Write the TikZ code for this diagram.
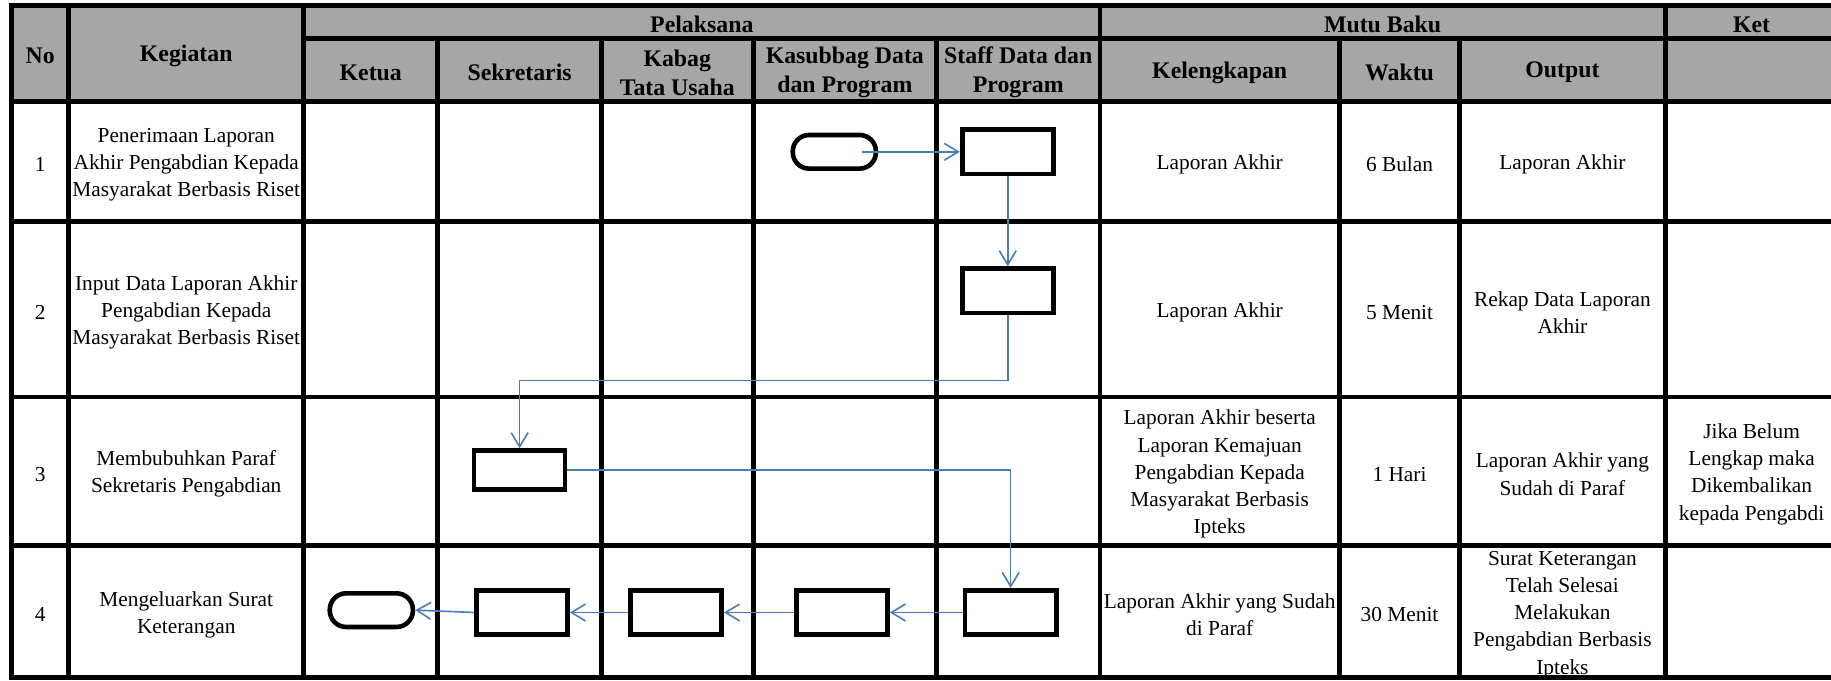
\documentclass[tikz,border=0pt]{standalone}
\usepackage{fontspec}
\setmainfont{Liberation Serif}
\usetikzlibrary{arrows.meta,positioning}
\definecolor{hdrgray}{RGB}{166,166,166}
\definecolor{flowblue}{RGB}{74,126,187}
\newcommand{\hdrfont}{\fontsize{14.5}{17.8}\selectfont\bfseries}
\newcommand{\cellfont}{\fontsize{13}{16.6}\selectfont}
\tikzset{
  rule/.style={line width=3pt, line cap=rect},
  hdr/.style={font=\hdrfont, align=center, inner sep=0pt, yshift=-1.5pt},
  txt/.style={font=\cellfont, align=center, inner sep=0pt, yshift=-1.8pt},
  proc/.style={draw, line width=2.8pt, fill=white, minimum width=1.95cm,
               minimum height=0.95cm, inner sep=0pt},
  term/.style={draw, line width=2.8pt, fill=white, rounded corners=0.35cm,
               minimum width=1.78cm, minimum height=0.72cm, inner sep=0pt},
  flow/.style={-{Straight Barb[length=3mm,width=3.6mm]}, draw=flowblue, line width=1pt},
}

\begin{document}
\begin{tikzpicture}[x=0.025cm, y=-0.025cm]
  \useasboundingbox (0,0) rectangle (1568,583);
  \fill[hdrgray] (10,5) rectangle (1576,87);
  \foreach \y in {5,87,190,340,467,580} \draw[rule] (10,\y) -- (1576,\y);
  \draw[rule] (260,33) -- (1576,33);
  \foreach \x in {10,59,260,942,1426,1574} \draw[rule] (\x,5) -- (\x,580);
  \foreach \x in {375,515,645,802,1147,1250} \draw[rule] (\x,33) -- (\x,580);

  % header
  \node[hdr] (hNo) at (34.5,46) {No};
  \node[hdr] (hKeg) at (159.5,46) {Kegiatan};
  \node[hdr] (hPel) at (601,19) {Pelaksana};
  \node[hdr] (hMutu) at (1184,19) {Mutu Baku};
  \node[hdr] (hKet) at (1500,19) {Ket};
  \node[hdr] (hKetua) at (317.5,60) {Ketua};
  \node[hdr] (hSek) at (445,60) {Sekretaris};
  \node[hdr] (hKabag) at (580,60) {Kabag\\Tata Usaha};
  \node[hdr] (hKasub) at (723.5,60) {Kasubbag Data\\dan Program};
  \node[hdr] (hStaff) at (872,60) {Staff Data dan\\Program};
  \node[hdr] (hLengkap) at (1044.5,60) {Kelengkapan};
  \node[hdr] (hWaktu) at (1198.5,60) {Waktu};
  \node[hdr] (hOut) at (1338,60) {Output};

  % row 1
  \node[txt] (no1) at (34.5,138.5) {1};
  \node[txt] (keg1) at (159.5,138.5) {Penerimaan Laporan\\Akhir Pengabdian Kepada\\Masyarakat Berbasis Riset};
  \node[txt] (lk1) at (1044.5,138.5) {Laporan Akhir};
  \node[txt] (wk1) at (1198.5,138.5) {6 Bulan};
  \node[txt] (out1) at (1338,138.5) {Laporan Akhir};
  % row 2
  \node[txt] (no2) at (34.5,265) {2};
  \node[txt] (keg2) at (159.5,265) {Input Data Laporan Akhir\\Pengabdian Kepada\\Masyarakat Berbasis Riset};
  \node[txt] (lk2) at (1044.5,265) {Laporan Akhir};
  \node[txt] (wk2) at (1198.5,265) {5 Menit};
  \node[txt] (out2) at (1338,265) {Rekap Data Laporan\\Akhir};
  % row 3
  \node[txt] (no3) at (34.5,403.5) {3};
  \node[txt] (keg3) at (159.5,403.5) {Membubuhkan Paraf\\Sekretaris Pengabdian};
  \node[txt] (lk3) at (1044.5,403.5) {Laporan Akhir beserta\\Laporan Kemajuan\\Pengabdian Kepada\\Masyarakat Berbasis\\Ipteks};
  \node[txt] (wk3) at (1198.5,403.5) {1 Hari};
  \node[txt] (out3) at (1338,403.5) {Laporan Akhir yang\\Sudah di Paraf};
  \node[txt] (ket3) at (1500,403.5) {Jika Belum\\Lengkap maka\\Dikembalikan\\kepada Pengabdi};
  % row 4
  \node[txt] (no4) at (34.5,524) {4};
  \node[txt] (keg4) at (159.5,524) {Mengeluarkan Surat\\Keterangan};
  \node[txt] (lk4) at (1044.5,524) {Laporan Akhir yang Sudah\\di Paraf};
  \node[txt] (wk4) at (1198.5,524) {30 Menit};
  \node[txt] (out4) at (1338,524) {Surat Keterangan\\Telah Selesai\\Melakukan\\Pengabdian Berbasis\\Ipteks};

  % flow
  \node[term] (start) at (714.5,130) {};
  \node[proc] (staff1) at (863,130) {};
  \node[proc] (staff2) at (863,249) {};
  \node[proc, minimum height=0.83cm] (sek3) at (445,402.5) {};
  \node[proc] (staff4) at (865.5,524.5) {};
  \node[proc] (kasub4) at (721,524.5) {};
  \node[proc] (kabag4) at (579,524.5) {};
  \node[proc] (sek4) at (447,524.5) {};
  \node[term] (stop) at (318,522.5) {};
  \coordinate (bend) at (0,326);

  \draw[flow] ([xshift=-0.35cm]start.east) -- (staff1.west);
  \draw[flow] (staff1.south) -- (staff2.north);
  \draw[flow] (staff2.south) -- (staff2.south |- bend) -| (sek3.north);
  \draw[flow] (sek3.east) -| (staff4.north);
  \draw[flow] (staff4.west) -- (kasub4.east);
  \draw[flow] (kasub4.west) -- (kabag4.east);
  \draw[flow] (kabag4.west) -- (sek4.east);
  \draw[flow] (sek4.west) -- (stop.east);
\end{tikzpicture}
\end{document}
